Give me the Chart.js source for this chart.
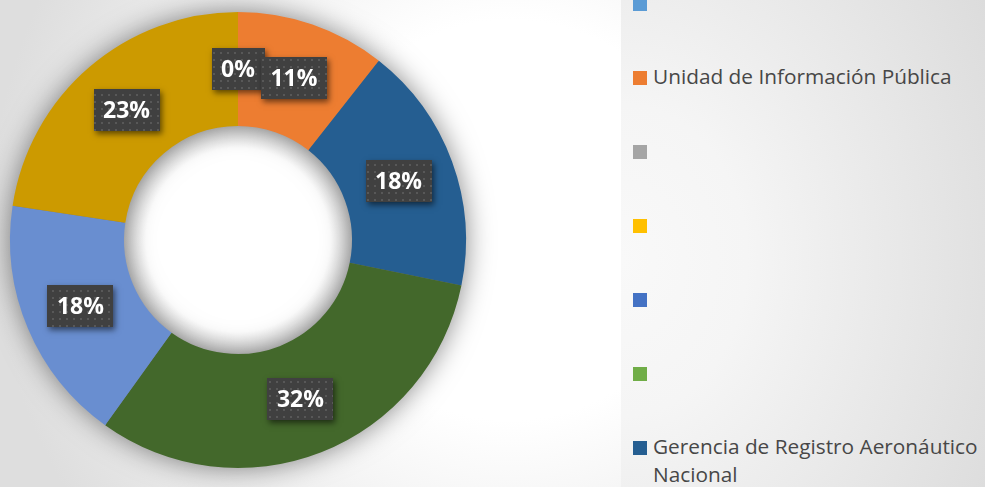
<!DOCTYPE html>
<html>
<head>
<meta charset="utf-8">
<script src="https://cdn.jsdelivr.net/npm/chart.js@4/dist/chart.umd.min.js"></script>
<style>
  html, body { margin: 0; padding: 0; }
  body {
    width: 985px; height: 487px; overflow: hidden; position: relative;
    background: radial-gradient(circle at 510px 220px, #ffffff 0px, #ffffff 200px, #dedede 520px);
    font-family: "Open Sans", sans-serif;
  }
  #wrap { position: absolute; left: 0; top: 0; width: 620px; height: 487px; }
  #panel {
    position: absolute; left: 621px; top: 0; width: 364px; height: 487px; overflow: hidden;
    background: radial-gradient(ellipse 420px 520px at 0px 260px, #f9f9f9 0%, #f5f5f5 30%, #dcdcdc 100%);
  }
  .box { position: absolute; left: 12px; width: 14px; height: 14px; }
  .txt { position: absolute; left: 32px; width: 360px; font-size: 20.8px; line-height: 28px; color: #474747; white-space: pre; }
</style>
</head>
<body>
<div id="wrap"><canvas id="donut"></canvas></div>
<div id="panel"></div>
<script>
// categories (legend shows only the first seven, the rest overflow)
var categories = ['', 'Unidad de Información Pública', '', '', '', '', 'Gerencia de Registro Aeronáutico\nNacional', '', '', ''];
var values = [0, 10.6, null, null, null, null, 17.6, 31.7, 17.5, 22.6];
var colors = ['#5B9BD5', '#ED7D31', '#A5A5A5', '#FFC000', '#4472C4', '#70AD47', '#255E91', '#43682B', '#698ED0', '#CC9A00'];
var legendCount = 7;
var legendTop = -3, legendStep = 74;

// legend panel
var panel = document.getElementById('panel');
for (var i = 0; i < legendCount; i++) {
  var itemTop = legendTop + i * legendStep;
  var b = document.createElement('div');
  b.className = 'box';
  b.style.top = itemTop + 'px';
  b.style.background = colors[i];
  panel.appendChild(b);
  var t = document.createElement('div');
  t.className = 'txt';
  t.style.top = (itemTop - 9) + 'px';
  t.textContent = categories[i];
  panel.appendChild(t);
}

// dotted pattern for the label boxes
var pc = document.createElement('canvas');
pc.width = 7; pc.height = 7;
var pctx = pc.getContext('2d');
pctx.fillStyle = '#404040'; pctx.fillRect(0, 0, 7, 7);
pctx.fillStyle = '#585858'; pctx.fillRect(3, 3, 2, 2);

var ringShadow = {
  id: 'ringShadow',
  beforeDatasetsDraw: function(chart) {
    var arc = chart.getDatasetMeta(0).data[1];
    var p = arc.getProps(['x', 'y', 'innerRadius', 'outerRadius']);
    var ctx = chart.ctx;
    // hole: white centre, grey rim
    var g = ctx.createRadialGradient(p.x, p.y, p.innerRadius - 22, p.x, p.y, p.innerRadius);
    g.addColorStop(0, 'rgba(255,255,255,1)');
    g.addColorStop(1, 'rgba(222,222,222,1)');
    ctx.save();
    ctx.beginPath();
    ctx.arc(p.x, p.y, p.innerRadius + 1, 0, Math.PI * 2);
    ctx.fillStyle = g;
    ctx.fill();
    ctx.restore();
    // soft shadow round the ring
    ctx.save();
    ctx.shadowColor = 'rgba(0,0,0,0.5)';
    ctx.shadowBlur = 28;
    ctx.beginPath();
    ctx.arc(p.x, p.y, p.outerRadius - 1, 0, Math.PI * 2);
    ctx.arc(p.x, p.y, p.innerRadius + 1, 0, Math.PI * 2, true);
    ctx.fillStyle = '#777';
    ctx.fill();
    ctx.restore();
  }
};

var boxLabels = {
  id: 'boxLabels',
  afterDatasetsDraw: function(chart) {
    var ctx = chart.ctx;
    var total = values.reduce(function(a, v) { return a + (v || 0); }, 0);
    var pattern = ctx.createPattern(pc, 'repeat');
    chart.getDatasetMeta(0).data.forEach(function(el, i) {
      if (values[i] === null) return;
      var pos = el.tooltipPosition();
      var text = Math.round(values[i] / total * 100) + '%';
      ctx.font = 'bold 23px "Open Sans"';
      var w = Math.round(ctx.measureText(text).width + 19), h = 42;
      var x0 = Math.round(pos.x - w / 2), y0 = Math.round(pos.y - h / 2);
      ctx.save();
      ctx.shadowColor = 'rgba(0,0,0,0.55)';
      ctx.shadowBlur = 6;
      ctx.shadowOffsetX = 2;
      ctx.shadowOffsetY = 3;
      ctx.fillStyle = '#404040';
      ctx.fillRect(x0, y0, w, h);
      ctx.restore();
      ctx.save();
      ctx.fillStyle = pattern;
      ctx.fillRect(x0, y0, w, h);
      ctx.fillStyle = '#ffffff';
      ctx.font = 'bold 23px "Open Sans"';
      ctx.textAlign = 'center';
      ctx.textBaseline = 'middle';
      ctx.fillText(text, pos.x, pos.y + 1);
      ctx.restore();
    });
  }
};

new Chart('donut', {
  type: 'doughnut',
  data: {
    labels: categories,
    datasets: [{
      data: values,
      backgroundColor: colors,
      borderWidth: 0
    }]
  },
  options: {
    responsive: true,
    maintainAspectRatio: false,
    animation: false,
    events: [],
    cutout: '50%',
    layout: { padding: { left: 10, right: 154, top: 10, bottom: 17 } },
    plugins: {
      legend: { display: false },
      tooltip: { enabled: false }
    }
  },
  plugins: [ringShadow, boxLabels]
});
</script>
</body>
</html>
